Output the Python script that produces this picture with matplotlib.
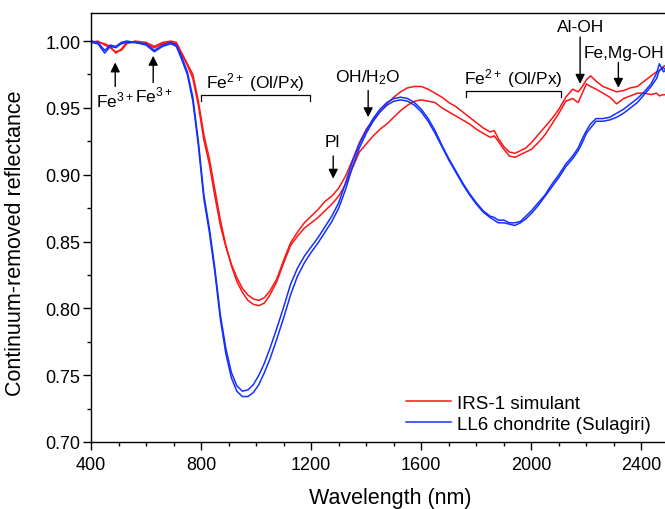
import matplotlib
matplotlib.use('Agg')
import matplotlib.pyplot as plt
from matplotlib.ticker import MultipleLocator

plt.rcParams['font.family'] = ['Liberation Sans', 'DejaVu Sans']
plt.rcParams['mathtext.fontset'] = 'custom'
plt.rcParams['mathtext.rm'] = 'Liberation Sans'
plt.rcParams['mathtext.it'] = 'Liberation Sans:italic'

# wavelength grid (nm), shared by all four spectra
wl = [400, 425, 450, 470, 490, 510, 530, 560, 600, 630, 660, 690,
      710, 730, 750, 770, 790, 810, 830, 850, 870, 890, 910, 930, 950, 970, 990, 1010, 1030, 1050,
      1075, 1100, 1125, 1150, 1175, 1200, 1225, 1250, 1275, 1300, 1325, 1350, 1375, 1400, 1425, 1450,
      1475, 1500, 1525, 1550, 1575, 1600, 1625, 1650, 1675, 1700, 1725, 1750, 1775, 1800, 1825, 1850,
      1865, 1880, 1900, 1920, 1940, 1960, 1980, 2000,
      2025, 2050, 2075, 2100, 2125, 2150,
      2170, 2185, 2200, 2215, 2235, 2260, 2285, 2310, 2335, 2360, 2385, 2410, 2435, 2455, 2465, 2480, 2500]

# IRS-1 simulant, two spectra
irs_a = [1.000, 0.999, 0.998, 0.996, 0.991, 0.994, 0.999, 0.999, 0.998, 0.995, 0.998, 0.999,
         0.998, 0.990, 0.982, 0.972, 0.952, 0.926, 0.908, 0.884, 0.862, 0.846, 0.833, 0.823, 0.815, 0.810, 0.807, 0.806, 0.808, 0.813,
         0.822, 0.836, 0.849, 0.857, 0.864, 0.869, 0.874, 0.880, 0.884, 0.890, 0.899, 0.911, 0.924, 0.934, 0.941, 0.947,
         0.953, 0.958, 0.962, 0.965, 0.966, 0.966, 0.964, 0.961, 0.958, 0.954, 0.951, 0.947, 0.943, 0.939, 0.935, 0.932,
         0.933, 0.927, 0.921, 0.917, 0.916, 0.918, 0.920, 0.924,
         0.930, 0.936, 0.942, 0.949, 0.958, 0.964,
         0.962, 0.966, 0.971, 0.974, 0.970, 0.966, 0.964, 0.962, 0.963, 0.965, 0.966, 0.970, 0.974, 0.977, 0.978, 0.981, 0.983]
irs_b = [0.999, 1.000, 0.997, 0.995, 0.992, 0.993, 0.998, 1.000, 0.999, 0.996, 0.999, 1.000,
         0.999, 0.991, 0.983, 0.975, 0.955, 0.930, 0.912, 0.889, 0.866, 0.847, 0.832, 0.820, 0.812, 0.806, 0.803, 0.802, 0.804, 0.810,
         0.820, 0.834, 0.847, 0.854, 0.860, 0.864, 0.868, 0.873, 0.878, 0.884, 0.893, 0.905, 0.917, 0.923, 0.929, 0.934,
         0.938, 0.943, 0.948, 0.952, 0.955, 0.956, 0.955, 0.954, 0.950, 0.947, 0.944, 0.941, 0.938, 0.934, 0.931, 0.928,
         0.929, 0.925, 0.919, 0.914, 0.913, 0.915, 0.917, 0.919,
         0.924, 0.930, 0.938, 0.946, 0.955, 0.957,
         0.954, 0.961, 0.968, 0.966, 0.964, 0.961, 0.958, 0.953, 0.957, 0.959, 0.961, 0.961, 0.960, 0.961, 0.959, 0.960, 0.959]

# LL6 chondrite (Sulagiri), two spectra
ll6_a = [0.999, 0.998, 0.991, 0.996, 0.995, 0.998, 0.999, 0.999, 0.998, 0.993, 0.997, 0.999,
         0.997, 0.988, 0.977, 0.958, 0.925, 0.885, 0.860, 0.830, 0.795, 0.770, 0.752, 0.742, 0.738, 0.739, 0.743, 0.750, 0.759, 0.770,
         0.785, 0.801, 0.818, 0.830, 0.839, 0.846, 0.853, 0.861, 0.869, 0.879, 0.894, 0.910, 0.923, 0.933, 0.942, 0.949,
         0.954, 0.957, 0.958, 0.957, 0.954, 0.949, 0.942, 0.933, 0.922, 0.912, 0.903, 0.894, 0.886, 0.879, 0.873, 0.869,
         0.868, 0.866, 0.866, 0.864, 0.864, 0.865, 0.869, 0.873,
         0.879, 0.885, 0.893, 0.900, 0.908, 0.914,
         0.920, 0.927, 0.933, 0.938, 0.942, 0.942, 0.943, 0.946, 0.949, 0.953, 0.957, 0.962, 0.968, 0.976, 0.983, 0.977, 0.980]
ll6_b = [1.000, 0.999, 0.993, 0.997, 0.996, 0.999, 1.000, 0.999, 0.997, 0.992, 0.996, 0.998,
         0.996, 0.986, 0.975, 0.955, 0.922, 0.882, 0.857, 0.827, 0.792, 0.766, 0.748, 0.738, 0.734, 0.734, 0.737, 0.743, 0.752, 0.762,
         0.777, 0.793, 0.810, 0.824, 0.834, 0.842, 0.849, 0.857, 0.865, 0.875, 0.889, 0.906, 0.920, 0.931, 0.940, 0.947,
         0.952, 0.955, 0.956, 0.955, 0.952, 0.947, 0.940, 0.931, 0.921, 0.911, 0.902, 0.893, 0.885, 0.878, 0.872, 0.868,
         0.866, 0.864, 0.864, 0.863, 0.862, 0.864, 0.867, 0.871,
         0.877, 0.884, 0.891, 0.898, 0.906, 0.912,
         0.918, 0.924, 0.931, 0.935, 0.940, 0.940, 0.941, 0.943, 0.946, 0.950, 0.954, 0.960, 0.966, 0.972, 0.978, 0.980, 0.976]

# absorption band markers: (label, wavelength, arrow tail, arrow tip, label x, label baseline, ha)
arrows = [
    ('Fe$^{3+}$', 488, 0.966, 0.984, 486, 0.951, 'center'),
    ('Fe$^{3+}$', 626, 0.969, 0.989, 628, 0.955, 'center'),
    ('Pl', 1280, 0.914, 0.897, 1276, 0.9215, 'center'),
    ('OH/H$_2$O', 1407, 0.963, 0.943, 1407, 0.970, 'center'),
    ('Al-OH', 2177, 1.003, 0.968, 2177, 1.0075, 'center'),
    ('Fe,Mg-OH', 2316, 0.984, 0.965, 2190, 0.988, 'left'),
]
# brackets: (label, start, end, level, label baseline)
brackets = [
    ('Fe$^{2+}$ (Ol/Px)', 800, 1197, 0.960, 0.965),
    ('Fe$^{2+}$ (Ol/Px)', 1761, 2108, 0.963, 0.968),
]


def main():
    fig = plt.figure(figsize=(6.65, 5.1), dpi=100)
    ax = fig.add_axes([91 / 665, 67 / 510, 578 / 665, 429 / 510])

    red = '#ff1414'
    blue = '#1430ff'
    ax.plot(wl, irs_a, color=red, lw=1.1, label='IRS-1 simulant')
    ax.plot(wl, irs_b, color=red, lw=1.1)
    ax.plot(wl, ll6_a, color=blue, lw=1.1, label='LL6 chondrite (Sulagiri)')
    ax.plot(wl, ll6_b, color=blue, lw=1.1)

    for text, x, y0, y1, tx, ty, ha in arrows:
        ax.annotate('', xy=(x, y1), xytext=(x, y0),
                    arrowprops=dict(arrowstyle='-|>', color='k', lw=1.0,
                                    mutation_scale=14, shrinkA=0, shrinkB=0))
        ax.text(tx, ty, text, ha=ha, va='baseline', fontsize=12.5)

    for text, x0, x1, lev, ty in brackets:
        ax.plot([x0, x0, x1, x1], [lev - 0.005, lev, lev, lev - 0.005], color='k', lw=0.9)
        ax.text((x0 + x1) / 2, ty, text, ha='center', va='baseline', fontsize=12.5)

    ax.set_xlim(400, 2500)
    ax.set_ylim(0.70, 1.021)
    ax.xaxis.set_major_locator(MultipleLocator(400))
    ax.xaxis.set_minor_locator(MultipleLocator(100))
    ax.yaxis.set_major_locator(MultipleLocator(0.05))
    ax.yaxis.set_minor_locator(MultipleLocator(0.025))
    ax.yaxis.set_major_formatter(matplotlib.ticker.FormatStrFormatter('%.2f'))
    ax.tick_params(which='both', direction='out', labelsize=13, width=1.0)
    ax.tick_params(which='major', length=6)
    ax.tick_params(which='minor', length=3)
    ax.tick_params(axis='y', pad=1.5)
    ax.tick_params(axis='x', pad=4)
    for sp in ax.spines.values():
        sp.set_linewidth(1.0)

    ax.set_xlabel('Wavelength (nm)', fontsize=15.5)
    ax.set_ylabel('Continuum-removed reflectance', fontsize=15.5)
    ax.xaxis.set_label_coords(0.518, -0.106)
    ax.yaxis.set_label_coords(-0.112, 0.466)

    ax.legend(loc='lower left', bbox_to_anchor=(0.545, 0.022), frameon=False,
              fontsize=13.5, handlelength=2.4, handletextpad=0.3,
              labelspacing=0.2, borderpad=0, borderaxespad=0)

    fig.savefig('out.png', dpi=100)


if __name__ == '__main__':
    main()
